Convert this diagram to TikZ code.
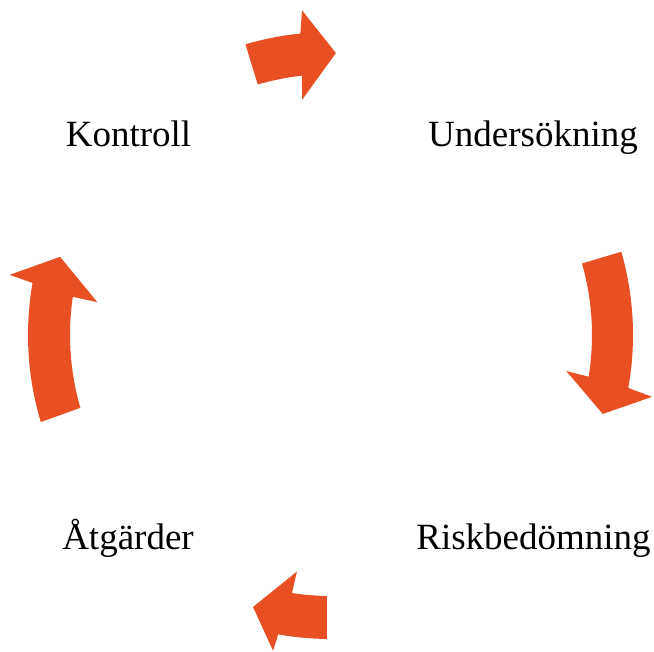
\documentclass[tikz,border=0pt]{standalone}
\usepackage{fontspec}
\setmainfont{Liberation Serif}
\definecolor{arrowc}{RGB}{232,80,36}
\tikzset{
  lbl/.style={anchor=base,inner sep=0pt,font=\fontsize{37}{40}\selectfont},
  cyclearrow/.style={fill=arrowc,draw=none}
}
\begin{document}
\begin{tikzpicture}[x=1pt,y=-1pt]
\useasboundingbox (0,0) rectangle (654,652);
\node[lbl] (kontroll) at (128.5,147) {Kontroll};
\node[lbl] (undersokning) at (533,147) {Undersökning};
\node[lbl] (risk) at (533.5,550) {Riskbedömning};
\node[lbl] (atgarder) at (128,550) {Åtgärder};
\begin{scope}[shift={(331,335)}]
% top arrow
\fill[cyclearrow] (-106.4:303) arc[start angle=-106.4,end angle=-95.8,radius=303]
  -- (-95.1:326) -- (-89:282) -- (-97:237) -- (-96.4:261)
  arc[start angle=-96.4,end angle=-106.3,radius=261] -- cycle;
% right arrow
\fill[cyclearrow] (-16:302) arc[start angle=-16,end angle=10.1,radius=302]
  -- (10.9:327) -- (16.2:283) -- (8.7:238) -- (9.2:261)
  arc[start angle=9.2,end angle=-15.9,radius=261] -- cycle;
% bottom arrow
\fill[cyclearrow] (90.8:304) arc[start angle=90.8,end angle=100,radius=304]
  -- (100.4:321) -- (106:283) -- (98.2:239) -- (98.6:261)
  arc[start angle=98.6,end angle=90.9,radius=261] -- cycle;
% left arrow
\fill[cyclearrow] (163.3:303) arc[start angle=163.3,end angle=189.9,radius=303]
  -- (190.6:327) -- (196.1:282) -- (188:236) -- (188.4:261)
  arc[start angle=188.4,end angle=163.8,radius=261] -- cycle;
\end{scope}
\end{tikzpicture}
\end{document}
